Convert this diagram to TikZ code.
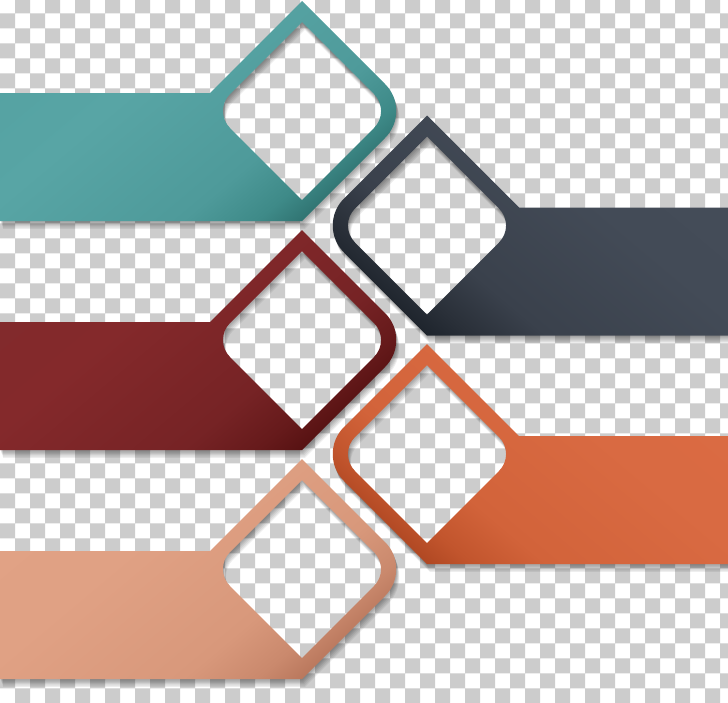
\documentclass[tikz,border=0pt]{standalone}
\usetikzlibrary{calc}
\definecolor{chk}{HTML}{CCCCCC}
% teal
\definecolor{t0}{HTML}{509E9E}\definecolor{t1}{HTML}{58A5A5}\definecolor{t2}{HTML}{4E9A9A}\definecolor{t3}{HTML}{3E8A88}\definecolor{t4}{HTML}{2A6A68}
% slate
\definecolor{s0}{HTML}{464E5A}\definecolor{s1}{HTML}{434B57}\definecolor{s2}{HTML}{3A414C}\definecolor{s3}{HTML}{2A3039}\definecolor{s4}{HTML}{191F27}
% red
\definecolor{r0}{HTML}{7E2B2D}\definecolor{r1}{HTML}{84292B}\definecolor{r2}{HTML}{762325}\definecolor{r3}{HTML}{661A1B}\definecolor{r4}{HTML}{500E0E}
% orange
\definecolor{o0}{HTML}{DC6C44}\definecolor{o1}{HTML}{D96A42}\definecolor{o2}{HTML}{D2633A}\definecolor{o3}{HTML}{C2552D}\definecolor{o4}{HTML}{A8421E}
% peach
\definecolor{p0}{HTML}{E2A386}\definecolor{p1}{HTML}{E0A184}\definecolor{p2}{HTML}{D8987B}\definecolor{p3}{HTML}{CA896D}\definecolor{p4}{HTML}{B27056}
\pgfdeclarehorizontalshading{tealsh}{100bp}{color(0bp)=(t0); color(40bp)=(t1); color(62bp)=(t2); color(70bp)=(t3); color(77bp)=(t4); color(100bp)=(t4)}
\pgfdeclarehorizontalshading{slatesh}{100bp}{color(0bp)=(s0); color(40bp)=(s1); color(62bp)=(s2); color(70bp)=(s3); color(77bp)=(s4); color(100bp)=(s4)}
\pgfdeclarehorizontalshading{redsh}{100bp}{color(0bp)=(r0); color(40bp)=(r1); color(62bp)=(r2); color(70bp)=(r3); color(77bp)=(r4); color(100bp)=(r4)}
\pgfdeclarehorizontalshading{orangesh}{100bp}{color(0bp)=(o0); color(40bp)=(o1); color(62bp)=(o2); color(70bp)=(o3); color(77bp)=(o4); color(100bp)=(o4)}
\pgfdeclarehorizontalshading{peachsh}{100bp}{color(0bp)=(p0); color(40bp)=(p1); color(62bp)=(p2); color(70bp)=(p3); color(77bp)=(p4); color(100bp)=(p4)}
\tikzset{
  holepath/.style 2 args={insert path={
    (#1,{#2-89}) -- ({#1+72.03},{#2-16.97})
    .. controls ({#1+81.4},{#2-7.6}) and ({#1+81.4},{#2+7.6}) .. ({#1+72.03},{#2+16.97})
    -- (#1,{#2+89}) -- ({#1-72.03},{#2+16.97})
    .. controls ({#1-81.4},{#2+7.6}) and ({#1-81.4},{#2-7.6}) .. ({#1-72.03},{#2-16.97}) -- cycle}},
  lpath/.style 2 args={insert path={
    (0,{#2-18}) -- ({#1-92},{#2-18}) -- (#1,{#2-110}) -- ({#1+83.13},{#2-26.87})
    .. controls ({#1+97.96},{#2-12.04}) and ({#1+97.96},{#2+12.04}) .. ({#1+83.13},{#2+26.87})
    -- (#1,{#2+110}) -- (0,{#2+110}) -- cycle}, holepath={#1}{#2}},
  rpath/.style 2 args={insert path={
    (728,{#2-18}) -- ({#1+92},{#2-18}) -- (#1,{#2-110}) -- ({#1-83.13},{#2-26.87})
    .. controls ({#1-97.96},{#2-12.04}) and ({#1-97.96},{#2+12.04}) .. ({#1-83.13},{#2+26.87})
    -- (#1,{#2+110}) -- (728,{#2+110}) -- cycle}, holepath={#1}{#2}},
}
\newcommand{\lshape}[3]{%
  \foreach \k in {1,...,6}{\fill[black, opacity=0.065, even odd rule, shift={(0.5*\k,1.3*\k)}, lpath={#1}{#2}];}
  \shade[shading=#3, shading angle=-50, even odd rule, lpath={#1}{#2}];}
\newcommand{\rshape}[3]{%
  \foreach \k in {1,...,6}{\fill[black, opacity=0.065, even odd rule, shift={(0.5*\k,1.3*\k)}, rpath={#1}{#2}];}
  \shade[shading=#3, shading angle=230, even odd rule, rpath={#1}{#2}];}
\begin{document}
\begin{tikzpicture}[x=1pt,y=-1pt]
\useasboundingbox (0,0) rectangle (728,702);
\clip (0,0) rectangle (728,702);
\fill[white] (0,0) rectangle (728,702);
\fill[chk] \foreach \j in {0,2,...,46}{\foreach \i in {1,3,...,49}{({15*\i},{15*\j-1.7}) rectangle ++(15,15)}}
           \foreach \j in {1,3,...,47}{\foreach \i in {0,2,...,48}{({15*\i},{15*\j-1.7}) rectangle ++(15,15)}};
\lshape{302}{111}{tealsh}
\rshape{427}{225.5}{slatesh}
\lshape{302}{340}{redsh}
\rshape{427}{454}{orangesh}
\lshape{302}{569}{peachsh}
\end{tikzpicture}
\end{document}
